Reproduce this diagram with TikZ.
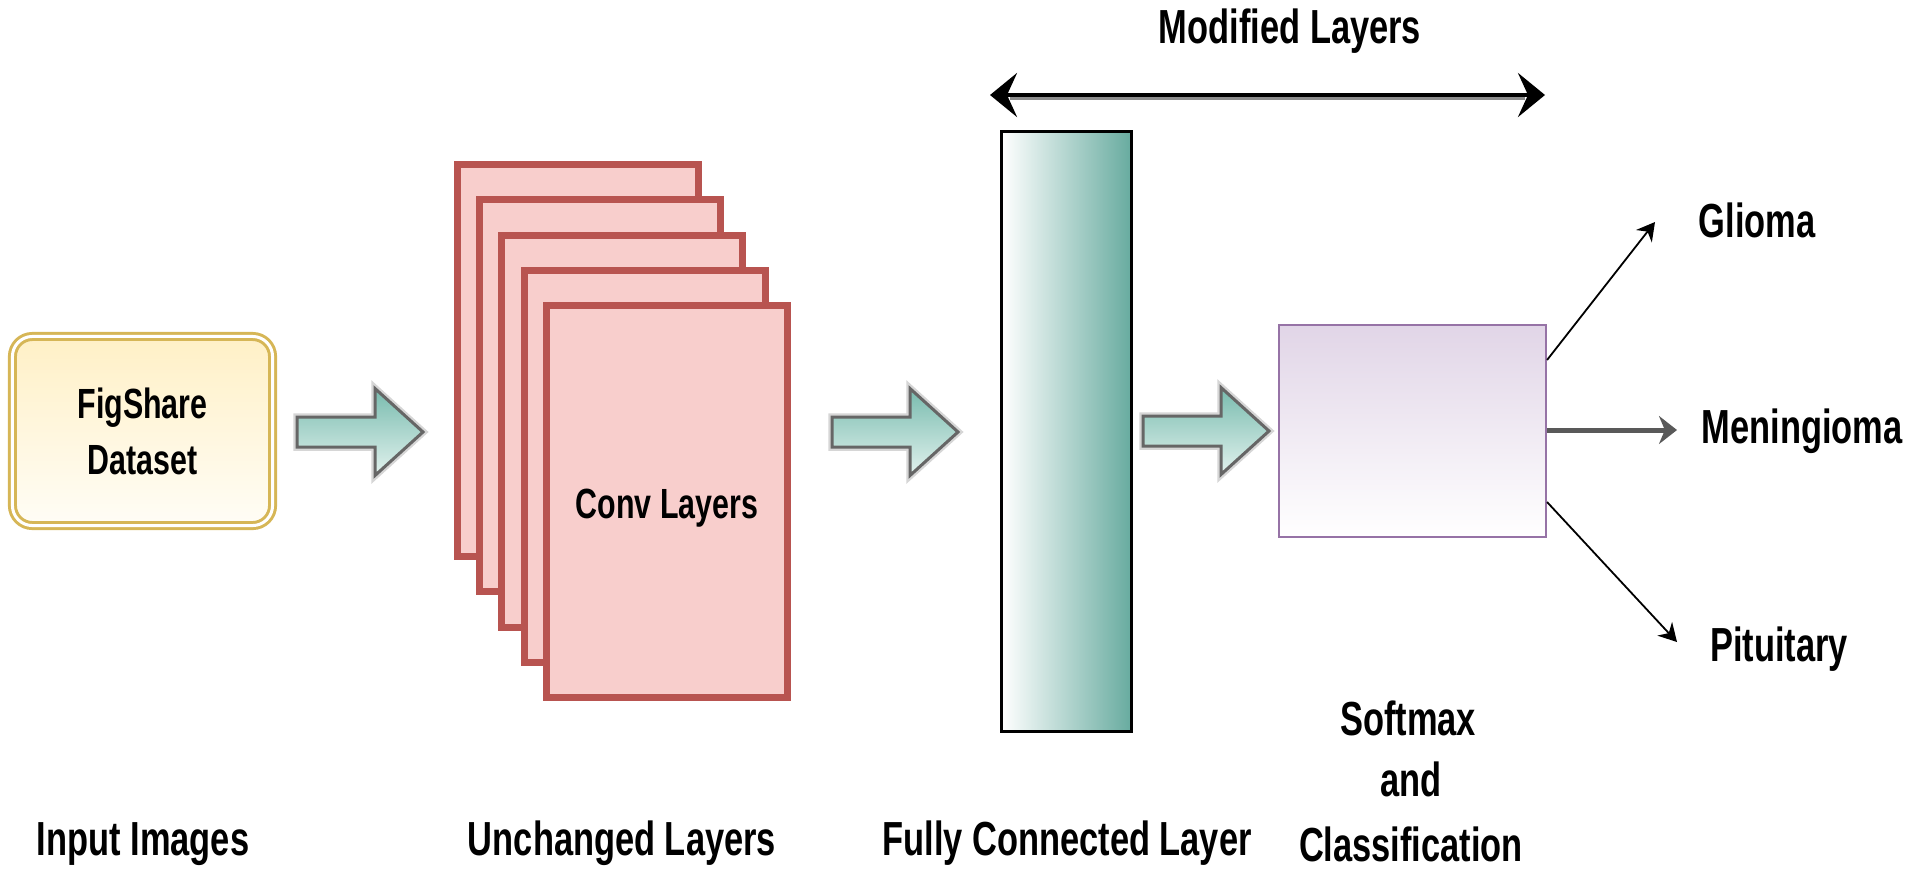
\documentclass[tikz,border=0pt]{standalone}
\usepackage{fontspec}
\newfontfamily\nb{Liberation Sans}[FakeStretch=0.72]
\usetikzlibrary{arrows.meta}
\definecolor{gold}{HTML}{D6B656}
\definecolor{goldfillT}{HTML}{FFF0C6}
\definecolor{goldfillB}{HTML}{FFFDF6}
\definecolor{convborder}{HTML}{B85450}
\definecolor{convfill}{HTML}{F8CECC}
\definecolor{teal}{HTML}{67AB9F}
\definecolor{purpleborder}{HTML}{9673A6}
\definecolor{purplefill}{HTML}{E1D5E7}
\definecolor{arrowedge}{HTML}{666666}
\definecolor{arrowT}{HTML}{78BBAE}
\definecolor{arrowB}{HTML}{E2F2EE}
\tikzset{
  lbl/.style={font={\nb\bfseries\fontsize{13.6}{16}\selectfont}, inner sep=0pt},
  inlbl/.style={font={\nb\bfseries\fontsize{12}{15.9}\selectfont}, align=center},
  figbox/.style={draw=gold, line width=0.03cm, double=white, double distance=0.03cm,
    rounded corners=0.2cm, top color=goldfillT, bottom color=goldfillB,
    minimum width=2.6cm, minimum height=1.89cm},
  convbox/.style={draw=convborder, fill=convfill, line width=0.07cm,
    minimum width=2.41cm, minimum height=3.91cm, inner sep=0pt},
  fcbox/.style={draw=black, line width=0.03cm, left color=white, right color=teal,
    minimum width=1.30cm, minimum height=6.0cm, inner sep=0pt},
  smbox/.style={draw=purpleborder, line width=0.02cm, top color=purplefill, bottom color=white,
    minimum width=2.67cm, minimum height=2.12cm, inner sep=0pt},
  barrow/.style={draw=arrowedge, line width=0.03cm, top color=arrowT, bottom color=arrowB,
    preaction={draw=black!16, line width=0.075cm}},
  clsarrow/.style={-{Stealth[length=0.18cm,width=0.2cm]}, line width=0.018cm, black},
  modarrow/.style={{Stealth[length=0.27cm,width=0.44cm,inset=0.1cm]}-{Stealth[length=0.27cm,width=0.44cm,inset=0.1cm]}, line width=0.04cm, black}
}
\newcommand\blockarr[1]{\path[barrow] (#1) ++(0,-15) -- ++(78,0) -- ++(0,-28.5) -- ++(48,43.5) -- ++(-48,43.5) -- ++(0,-28.5) -- ++(-78,0) -- cycle;}
\begin{document}
\begin{tikzpicture}[x=0.01cm,y=-0.01cm]
\useasboundingbox (0,0) rectangle (1912,878);

% input box
\node[figbox, inlbl] (fig) at (142.5,431) {FigShare\\Dataset};

% conv stack
\node[convbox] (c1) at (578,360.5) {};
\node[convbox] (c2) at (600,395.5) {};
\node[convbox] (c3) at (622,431.5) {};
\node[convbox] (c4) at (645,466.5) {};
\node[convbox] (c5) at (667,501.5) {};
\node[inlbl] (convtxt) at ([yshift=-0.07cm]c5.center) {Conv Layers};

% fully connected
\node[fcbox] (fc) at (1066.5,431.5) {};

% softmax box
\node[smbox] (sm) at (1412.5,431) {};

% block arrows
\coordinate (ba1) at (297,432);
\coordinate (ba2) at (832,432);
\coordinate (ba3) at (1143,431);
\blockarr{ba1}
\blockarr{ba2}
\blockarr{ba3}

% modified layers arrow
\coordinate (ml) at (990,95);
\coordinate (mr) at (1545,95);
\draw[black!45, line width=0.04cm, shorten <=0.2cm, shorten >=0.2cm] ([yshift=-0.025cm]ml) -- ([yshift=-0.025cm]mr);
\draw[modarrow] (ml) -- (mr);
\node[lbl, anchor=base] (mod) at (1290,43) {Modified Layers};

% class labels
\node[lbl, anchor=base] (gl) at (1757,237) {Glioma};
\node[lbl, anchor=base] (me) at (1802,443) {Meningioma};
\node[lbl, anchor=base] (pi) at (1779,661) {Pituitary};
\coordinate (gtip) at (1655,222);
\coordinate (mtip) at (1677,430);
\coordinate (ptip) at (1677,642);
\draw[clsarrow] ([yshift=0.71cm]sm.east) -- (gtip);
\draw[-{Stealth[length=0.18cm,width=0.28cm]}, line width=0.05cm, black!65] ([yshift=0.01cm]sm.east) -- (mtip);
\draw[clsarrow] ([yshift=-0.71cm]sm.east) -- (ptip);

% bottom labels
\node[lbl, anchor=base] (in) at (143,855) {Input Images};
\node[lbl, anchor=base] (un) at (622,855) {Unchanged Layers};
\node[lbl, anchor=base] (fcl) at (1067,855) {Fully Connected Layer};
\node[lbl, anchor=base] (s1) at (1408,735) {Softmax};
\node[lbl, anchor=base] (s2) at (1411,796) {and};
\node[lbl, anchor=base] (s3) at (1411,861) {Classification};
\end{tikzpicture}
\end{document}
